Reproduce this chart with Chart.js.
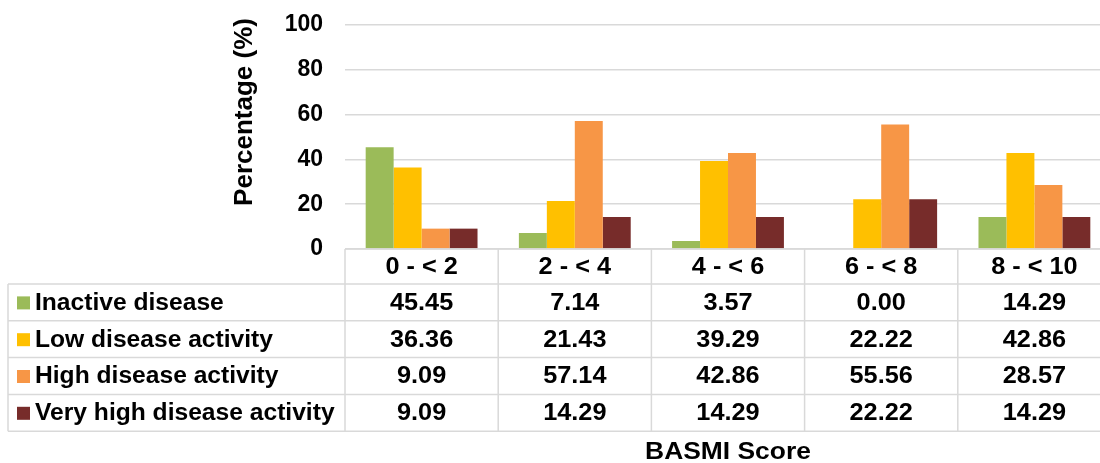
<!DOCTYPE html>
<html>
<head>
<meta charset="utf-8">
<script src="https://cdn.jsdelivr.net/npm/chart.js@4.4.1/dist/chart.umd.min.js"></script>
<style>
  html, body { margin: 0; padding: 0; background: #fff; overflow: hidden; }
</style>
</head>
<body>
<div style="width:1120px;height:463px">
  <canvas id="basmiChart" width="1120" height="463"></canvas>
</div>
<script>
// chart data
const categories = ['0 - < 2', '2 - < 4', '4 - < 6', '6 - < 8', '8 - < 10'];
const seriesNames = ['Inactive disease', 'Low disease activity', 'High disease activity', 'Very high disease activity'];
const inactive = [45.45, 7.14, 3.57, 0.00, 14.29];
const lowActivity = [36.36, 21.43, 39.29, 22.22, 42.86];
const highActivity = [9.09, 57.14, 42.86, 55.56, 28.57];
const veryHighActivity = [9.09, 14.29, 14.29, 22.22, 14.29];
const seriesColors = ['#9BBB59', '#FFC000', '#F79646', '#772C2A'];
const yTitle = 'Percentage (%)';
const xTitle = 'BASMI Score';

const FONT = '"Liberation Sans", Arial, sans-serif';

// text a little wider than the font gives, like the original picture
function wideText(ctx, text, x, y, align, sx) {
  ctx.save();
  ctx.translate(x, y);
  ctx.scale(sx, 1);
  ctx.textAlign = align;
  ctx.fillText(text, 0, 0);
  ctx.restore();
}

// draws the Excel-style data table under the plot plus the axis titles
const dataTable = {
  id: 'dataTable',
  afterDraw(chart) {
    const ctx = chart.ctx;
    const x = chart.scales.x;
    const area = chart.chartArea;
    const colW = (x.right - x.left) / categories.length;
    const top = area.bottom;
    const headH = 35;
    const rowH = 36.8;
    const left = 8;
    const bottom = top + headH + rowH * chart.data.datasets.length;

    ctx.save();
    ctx.strokeStyle = '#d9d9d9';
    ctx.lineWidth = 1.5;
    ctx.beginPath();
    ctx.moveTo(x.left, top);
    ctx.lineTo(x.right, top);
    for (let r = 0; r <= chart.data.datasets.length; r++) {
      const y = top + headH + r * rowH;
      ctx.moveTo(left, y);
      ctx.lineTo(x.right, y);
    }
    for (let c = 0; c <= categories.length; c++) {
      const xx = (c < categories.length ? x.getPixelForValue(c) : x.getPixelForValue(c - 1) + colW) - colW / 2;
      ctx.moveTo(xx, top);
      ctx.lineTo(xx, bottom);
    }
    ctx.moveTo(left, top + headH);
    ctx.lineTo(left, bottom);
    ctx.stroke();

    ctx.fillStyle = '#000';
    ctx.font = 'bold 23px ' + FONT;
    ctx.textBaseline = 'middle';
    categories.forEach((cat, i) => {
      wideText(ctx, cat, x.getPixelForValue(i), top + headH / 2 + 1, 'center', 1.1);
    });

    chart.data.datasets.forEach((ds, r) => {
      const cy = top + headH + r * rowH + rowH / 2 + 1;
      ds.data.forEach((v, i) => {
        wideText(ctx, v.toFixed(2), x.getPixelForValue(i), cy, 'center', 1.1);
      });
      ctx.fillStyle = ds.backgroundColor;
      ctx.fillRect(17, cy - 7, 13, 13);
      ctx.fillStyle = '#000';
      wideText(ctx, ds.label, 35, cy, 'left', 1.07);
    });

    // x axis title
    ctx.font = 'bold 24px ' + FONT;
    wideText(ctx, xTitle, (x.left + x.right) / 2, 452, 'center', 1.1);

    // y axis title
    ctx.font = 'bold 26px ' + FONT;
    ctx.translate(245, 112);
    ctx.rotate(-Math.PI / 2);
    ctx.textAlign = 'center';
    ctx.fillText(yTitle, 0, 0);
    ctx.restore();
  }
};

const values = [inactive, lowActivity, highActivity, veryHighActivity];

new Chart(document.getElementById('basmiChart'), {
  type: 'bar',
  data: {
    labels: categories,
    datasets: seriesNames.map((name, i) => ({
      label: name,
      data: values[i],
      backgroundColor: seriesColors[i],
      borderWidth: 0,
      categoryPercentage: 0.73,
      barPercentage: 1.0
    }))
  },
  options: {
    responsive: false,
    animation: false,
    layout: { padding: { top: 25, bottom: 214, right: 9, left: 0 } },
    plugins: {
      legend: { display: false },
      tooltip: { enabled: false }
    },
    scales: {
      x: { display: false },
      y: {
        min: 0,
        max: 100,
        afterFit: scale => {
          scale.width = 345;
          scale.paddingTop = 0;
          scale.paddingBottom = 0;
        },
        border: { display: false },
        grid: { color: '#d9d9d9', lineWidth: 1.5, drawTicks: false },
        ticks: {
          stepSize: 20,
          padding: 22,
          color: '#000',
          font: { family: FONT, size: 23, weight: 'bold' }
        }
      }
    }
  },
  plugins: [dataTable]
});
</script>
</body>
</html>
